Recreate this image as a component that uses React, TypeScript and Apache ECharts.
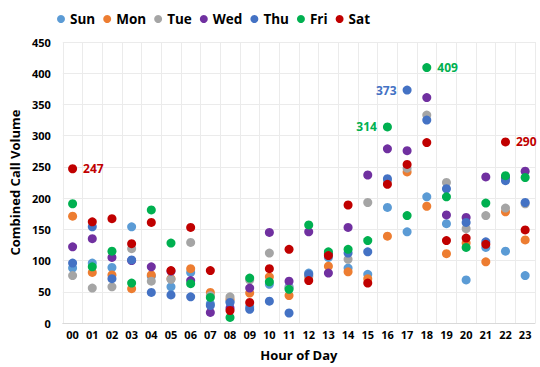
import React, { useEffect, useRef } from "react";
import * as echarts from "echarts";

const hours = ["00","01","02","03","04","05","06","07","08","09","10","11","12","13","14","15","16","17","18","19","20","21","22","23"];
const days = ["Sun", "Mon", "Tue", "Wed", "Thu", "Fri", "Sat"];

const sun = [88, 96, 89, 154, 75, 58, 81, 31, 35, 26, 62, 58, 80, 105, 88, 78, 185, 146, 202, 159, 69, 121, 115, 76];
const mon = [171, 81, 77, 55, 77, 71, 87, 49, 38, 48, 74, 44, 74, 91, 82, 71, 139, 242, 187, 111, 128, 98, 178, 133];
const tue = [76, 56, 58, 119, 67, 70, 129, 44, 42, 69, 112, 56, 76, 112, 102, 193, 228, 248, 333, 225, 151, 172, 184, 191];
const wed = [122, 135, 105, 100, 90, 83, 68, 17, 24, 56, 145, 67, 146, 80, 153, 237, 279, 276, 361, 173, 169, 234, 233, 243];
const thu = [96, 154, 71, 101, 49, 45, 42, 28, 33, 22, 35, 16, 78, 110, 112, 114, 231, 373, 325, 215, 161, 130, 228, 193];
const fri = [191, 90, 115, 64, 181, 128, 63, 41, 9, 72, 66, 54, 157, 114, 118, 132, 314, 172, 409, 202, 121, 192, 236, 233];
const sat = [247, 162, 167, 127, 161, 84, 153, 84, 20, 33, 87, 118, 68, 108, 189, 64, 222, 254, 289, 132, 136, 126, 290, 149];

const seriesValues = [sun, mon, tue, wed, thu, fri, sat];
const colors = ["#5B9BD5", "#ED7D31", "#A5A5A5", "#7030A0", "#4472C4", "#00B050", "#C00000"];

// labelled points: [day index, hour index, label side]
const labelled: [number, number, string][] = [
  [6, 0, "right"],
  [5, 16, "left"],
  [4, 17, "left"],
  [5, 18, "right"],
  [6, 22, "right"],
];

const FONT = "'Open Sans', 'Noto Sans', sans-serif";

export default function App() {
  const ref = useRef<HTMLDivElement>(null);
  useEffect(() => {
    if (!ref.current) return;
    const chart = echarts.init(ref.current, undefined, { renderer: "svg" });
    const series = days.map((d, si) => ({
      name: d,
      type: "scatter",
      symbol: "circle",
      symbolSize: 9,
      itemStyle: { color: colors[si], opacity: 1 },
      data: seriesValues[si].map((v, hi) => {
        const lab = labelled.find((l) => l[0] === si && l[1] === hi);
        if (!lab) return v;
        return {
          value: v,
          label: {
            show: true,
            position: lab[2],
            distance: 6,
            formatter: "{c}",
            color: colors[si],
            fontWeight: "bold",
            fontSize: 12,
            fontFamily: FONT,
          },
        };
      }),
    }));
    chart.setOption({
      animation: false,
      backgroundColor: "#ffffff",
      textStyle: { fontFamily: FONT },
      legend: {
        data: days.map((d, i) => ({ name: d, itemStyle: { color: colors[i] } })),
        left: 52,
        top: 7,
        icon: "circle",
        itemWidth: 8,
        itemHeight: 8,
        itemGap: 8,
        textStyle: { fontSize: 13.5, fontWeight: "bold", color: "#000", fontFamily: FONT },
      },
      grid: { left: 60, right: 5, top: 42, bottom: 44, containLabel: false },
      xAxis: {
        type: "category",
        data: hours,
        boundaryGap: true,
        name: "Hour of Day",
        nameLocation: "middle",
        nameGap: 25,
        nameTextStyle: { fontSize: 13, fontWeight: "bold", color: "#000", fontFamily: FONT },
        axisLine: { show: true, lineStyle: { color: "#D9D9D9" } },
        axisTick: { show: false },
        axisLabel: { fontSize: 11, fontWeight: "bold", color: "#000", margin: 6, fontFamily: FONT },
        splitLine: { show: true, lineStyle: { color: "#EBEBEB" } },
      },
      yAxis: {
        type: "value",
        min: 0,
        max: 450,
        interval: 50,
        name: "Combined Call Volume",
        nameLocation: "middle",
        nameGap: 39,
        nameTextStyle: { fontSize: 13, fontWeight: "bold", color: "#000", fontFamily: FONT },
        axisLine: { show: false },
        axisTick: { show: false },
        axisLabel: { fontSize: 11, fontWeight: "bold", color: "#000", margin: 12, fontFamily: FONT },
        splitLine: { show: true, lineStyle: { color: "#EBEBEB" } },
      },
      series,
    });
    return () => chart.dispose();
  }, []);
  return (
    <div
      ref={ref}
      style={{ position: "fixed", left: 0, top: 0, width: 540, height: 367, background: "#fff" }}
    />
  );
}
